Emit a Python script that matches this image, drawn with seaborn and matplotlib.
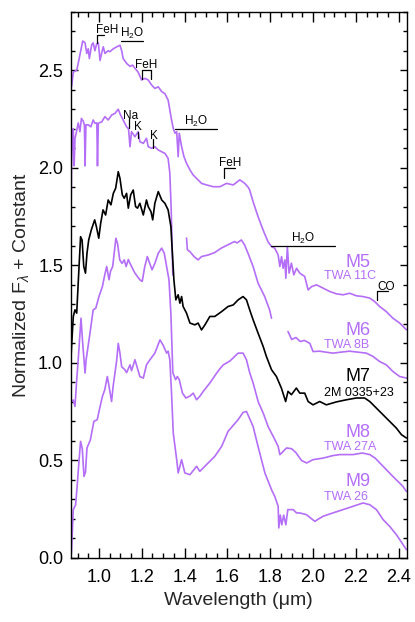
import numpy as np
import pandas as pd
import matplotlib
matplotlib.use("Agg")
import matplotlib.pyplot as plt
import seaborn as sns
from matplotlib.ticker import MultipleLocator

nan = np.nan

# ---------------- spectra (wavelength in micron, normalized flux + offset); nan = gap
m5_wl = [0.872, 0.880, 0.896, 0.903, 0.924, 0.935, 0.943, 0.950, 0.955, 0.966, 0.973, 0.981, 0.989, 0.997,
         1.005, 1.013, 1.020, 1.028, 1.043, 1.051, 1.067, 1.083, 1.098, 1.106, 1.113, 1.129, 1.145, 1.157,
         1.168, 1.183, 1.199, 1.215, 1.230, 1.246, 1.261, 1.277, 1.293, 1.308, 1.323, 1.331, 1.339, 1.347,
         1.355, 1.363, 1.370, 1.375, 1.386, 1.397, 1.409, 1.425, 1.440, 1.463, 1.479, 1.503, 1.533, 1.565,
         1.596, 1.627, 1.658, 1.681, 1.697, 1.704, 1.720, 1.743, 1.767, 1.790, 1.806, 1.821, 1.837, 1.845,
         1.853, 1.860, 1.868, 1.873, 1.880, 1.888, 1.899, 1.910, 1.923, 1.938, 1.961, 1.977, 1.993, 2.016,
         2.047, 2.078, 2.109, 2.140, 2.171, 2.202, 2.233, 2.265, 2.288, 2.311, 2.342, 2.373, 2.405, 2.436]
m5_fl = [2.415, 2.490, 2.500, 2.535, 2.650, 2.640, 2.586, 2.610, 2.560, 2.630, 2.640, 2.600, 2.634, 2.640,
         2.550, 2.590, 2.620, 2.586, 2.600, 2.595, 2.610, 2.620, 2.628, 2.600, 2.560, 2.535, 2.520, 2.526,
         2.510, 2.490, 2.450, 2.458, 2.450, 2.424, 2.407, 2.415, 2.390, 2.380, 2.347, 2.296, 2.245, 2.202,
         2.177, 2.185, 2.057, 2.177, 2.108, 2.057, 2.023, 1.989, 1.963, 1.938, 1.920, 1.912, 1.903, 1.903,
         1.920, 1.912, 1.938, 1.920, 1.900, 1.886, 1.826, 1.750, 1.680, 1.620, 1.596, 1.588, 1.553, 1.494,
         1.545, 1.485, 1.528, 1.434, 1.596, 1.460, 1.511, 1.451, 1.485, 1.460, 1.443, 1.374, 1.391, 1.400,
         1.383, 1.366, 1.354, 1.349, 1.357, 1.344, 1.340, 1.332, 1.314, 1.289, 1.263, 1.229, 1.204, 1.170]

m6_wl = [0.869, 0.872, 0.876, 0.880, 0.884, 0.888, 0.896, 0.903, 0.911, 0.918, 0.926, 0.932, 0.935, 0.939,
         0.950, 0.962, 0.973, 0.981, 0.990, 0.993, 0.997, 1.013, 1.028, 1.043, 1.059, 1.075, 1.090, 1.101,
         1.113, 1.129, 1.138, 1.145, 1.152, 1.168, 1.183, 1.191, 1.207, 1.222, 1.230, 1.246, 1.261, 1.277,
         1.293, 1.308, 1.323, 1.331, 1.337, 1.345, nan,
         1.409, 1.413, 1.425, 1.444, 1.463, 1.479, 1.510, 1.540, 1.571, 1.602, 1.633, 1.645, 1.665, 1.680,
         1.696, 1.720, 1.743, 1.774, 1.797, 1.806, nan,
         1.883, 1.900, 1.920, 1.940, 1.960, 1.985, 2.000, 2.030, 2.060, 2.093, 2.130, 2.170, 2.210, 2.249,
         2.280, 2.311, 2.342, 2.373, 2.405, 2.437]
m6_fl = [1.720, 2.020, 2.150, 2.200, 2.010, 2.150, 2.190, 2.230, 2.185, 2.253, 2.240, 2.220, 2.010, 2.220,
         2.220, 2.210, 2.245, 2.228, 2.230, 2.010, 2.228, 2.236, 2.262, 2.245, 2.270, 2.279, 2.300, 2.270,
         2.245, 2.210, 2.200, 2.108, 2.185, 2.159, 2.185, 2.134, 2.125, 2.151, 2.108, 2.100, 2.108, 2.091,
         2.082, 2.074, 2.048, 1.972, 1.800, 1.450, nan,
         1.640, 1.580, 1.570, 1.545, 1.528, 1.545, 1.553, 1.565, 1.588, 1.605, 1.622, 1.615, 1.630, 1.605,
         1.562, 1.494, 1.409, 1.340, 1.272, 1.229, nan,
         1.161, 1.120, 1.130, 1.110, 1.115, 1.100, 1.058, 1.060, 1.055, 1.050, 1.055, 1.060, 1.055, 1.050,
         1.033, 1.007, 0.990, 0.956, 0.930, 0.922]

m7_wl = [0.869, 0.872, 0.880, 0.888, 0.896, 0.903, 0.914, 0.921, 0.929, 0.937, 0.944, 0.952, 0.964, 0.980,
         0.988, 0.999, 1.008, 1.019, 1.031, 1.043, 1.056, 1.067, 1.078, 1.090, 1.098, 1.109, 1.118, 1.129,
         1.137, 1.148, 1.160, 1.171, 1.180, 1.191, 1.207, 1.222, 1.230, 1.243, 1.251, 1.261, 1.277, 1.293,
         1.308, 1.323, 1.336, 1.342, 1.350, 1.359, 1.370, 1.378, 1.386, 1.393, 1.409, 1.425, 1.448, 1.463,
         1.479, 1.495, 1.518, 1.541, 1.573, 1.603, 1.627, 1.650, 1.673, 1.689, 1.704, 1.720, 1.743, 1.767,
         1.782, 1.806, 1.829, 1.852, 1.872, 1.883, 1.899, 1.922, 1.938, 1.961, 1.977, 2.000, 2.031, 2.062,
         2.109, 2.156, 2.202, 2.241, 2.265, 2.296, 2.327, 2.358, 2.389, 2.413, 2.436]
m7_fl = [1.020, 1.084, 1.238, 1.272, 1.255, 1.409, 1.647, 1.630, 1.494, 1.460, 1.562, 1.630, 1.681, 1.733,
         1.698, 1.639, 1.716, 1.784, 1.758, 1.835, 1.810, 1.869, 1.895, 1.980, 1.946, 1.861, 1.844, 1.869,
         1.793, 1.861, 1.886, 1.801, 1.793, 1.818, 1.758, 1.835, 1.801, 1.775, 1.733, 1.818, 1.878, 1.835,
         1.818, 1.784, 1.698, 1.579, 1.426, 1.323, 1.349, 1.306, 1.340, 1.289, 1.255, 1.204, 1.195, 1.204,
         1.169, 1.195, 1.238, 1.238, 1.263, 1.289, 1.297, 1.323, 1.340, 1.323, 1.272, 1.221, 1.153, 1.084,
         1.033, 0.965, 0.930, 0.871, 0.802, 0.854, 0.837, 0.871, 0.845, 0.845, 0.802, 0.785, 0.802, 0.785,
         0.800, 0.811, 0.820, 0.820, 0.802, 0.768, 0.734, 0.700, 0.666, 0.632, 0.615]

m8_wl = [0.869, 0.880, 0.888, 0.896, 0.903, 0.916, 0.924, 0.935, 0.940, 0.958, 0.973, 0.985, 1.000, 1.016,
         1.027, 1.036, 1.047, 1.054, 1.064, 1.079, 1.087, 1.097, 1.108, 1.118, 1.127, 1.137, 1.145, 1.160,
         1.168, 1.191, 1.202, 1.214, 1.226, 1.237, 1.248, 1.261, 1.277, 1.293, 1.305, 1.316, 1.327, 1.336,
         1.345, 1.358, 1.366, 1.375, 1.390, 1.406, 1.425, 1.440, 1.456, 1.472, 1.487, 1.518, 1.550, 1.565,
         1.581, 1.612, 1.650, 1.673, 1.689, 1.704, 1.720, 1.744, 1.767, 1.790, 1.814, 1.837, 1.845, 1.853,
         1.876, 1.900, 1.920, 1.946, 1.970, 2.000, 2.047, 2.093, 2.125, 2.187, 2.230, 2.265, 2.290, 2.327,
         2.373, 2.420, 2.436]
m8_fl = [0.800, 0.810, 0.777, 0.914, 1.016, 1.229, 1.100, 0.948, 1.016, 1.153, 1.272, 1.280, 1.340, 1.391,
         1.451, 1.494, 1.426, 1.470, 1.494, 1.639, 1.610, 1.528, 1.510, 1.528, 1.494, 1.530, 1.510, 1.477,
         1.460, 1.426, 1.418, 1.494, 1.545, 1.510, 1.477, 1.510, 1.562, 1.588, 1.562, 1.494, 1.426, 1.250,
         0.950, 0.914, 0.930, 0.914, 0.845, 0.820, 0.830, 0.845, 0.811, 0.830, 0.854, 0.897, 0.948, 0.970,
         0.990, 1.010, 1.050, 1.050, 1.016, 0.950, 0.897, 0.800, 0.743, 0.674, 0.623, 0.572, 0.530, 0.538,
         0.564, 0.560, 0.540, 0.500, 0.487, 0.504, 0.512, 0.525, 0.530, 0.530, 0.538, 0.530, 0.512, 0.470,
         0.418, 0.367, 0.341]

m9_wl = [0.869, 0.872, 0.880, 0.891, 0.898, 0.906, 0.914, 0.922, 0.930, 0.937, 0.944, 0.960, 0.976, 0.992,
         1.000, 1.016, 1.027, 1.039, 1.047, 1.059, 1.066, 1.075, 1.083, 1.090, 1.098, 1.106, 1.121, 1.129,
         1.145, 1.152, 1.168, 1.191, 1.207, 1.222, 1.238, 1.261, 1.285, 1.300, 1.316, 1.323, 1.331, 1.339,
         1.347, 1.363, 1.370, 1.386, 1.401, 1.425, 1.456, 1.471, 1.510, 1.541, 1.573, 1.603, 1.650, 1.673,
         1.689, 1.720, 1.743, 1.775, 1.806, 1.821, 1.837, 1.840, 1.847, 1.854, 1.863, 1.873, 1.882, 1.907,
         1.923, 1.938, 1.969, 2.008, 2.047, 2.093, 2.140, 2.187, 2.233, 2.265, 2.296, 2.327, 2.358, 2.389,
         2.436]
m9_fl = [0.000, 0.043, 0.248, 0.273, 0.367, 0.487, 0.598, 0.560, 0.418, 0.440, 0.564, 0.606, 0.700, 0.709,
         0.751, 0.828, 0.862, 0.930, 0.880, 0.802, 0.880, 0.950, 1.016, 1.100, 1.050, 0.980, 0.965, 0.950,
         0.990, 0.960, 1.016, 0.930, 0.922, 0.990, 1.016, 1.050, 1.118, 1.090, 1.050, 1.060, 1.016, 0.845,
         0.640, 0.504, 0.436, 0.504, 0.436, 0.427, 0.470, 0.444, 0.487, 0.521, 0.572, 0.649, 0.709, 0.746,
         0.751, 0.674, 0.572, 0.436, 0.350, 0.316, 0.265, 0.154, 0.220, 0.170, 0.220, 0.170, 0.248, 0.248,
         0.231, 0.231, 0.222, 0.188, 0.214, 0.231, 0.248, 0.265, 0.282, 0.273, 0.248, 0.197, 0.162, 0.120,
         0.043]

spec_types = ["M5", "M6", "M7", "M8", "M9"]
spec_names = ["TWA 11C", "TWA 8B", "2M 0335+23", "TWA 27A", "TWA 26"]
type_label_y = [1.494, 1.144, 0.905, 0.620, 0.367]
name_label_y = [1.429, 1.076, 0.832, 0.551, 0.295]

# ---------------- absorption-feature annotations
feat_text = ["FeH", "H$_2$O", "FeH", "Na", "K", "K", "H$_2$O", "FeH", "H$_2$O", "CO"]
feat_tx = [1.036, 1.153, 1.221, 1.146, 1.183, 1.255, 1.454, 1.614, 1.952, 2.341]
feat_ty = [2.689, 2.672, 2.512, 2.252, 2.192, 2.150, 2.220, 2.009, 1.620, 1.374]
feat_x0 = [0.992, 1.103, 1.199, 1.141, 1.180, 1.251, 1.355, 1.585, 1.803, 2.299]
feat_x1 = [1.023, 1.204, 1.241, 1.141, 1.180, 1.251, 1.552, 1.635, 2.101, 2.350]
feat_y = [2.680, 2.651, 2.501, 2.248, 2.185, 2.146, 2.200, 1.997, 1.600, 1.366]
feat_left_end = [2.637, nan, 2.453, 2.202, 2.151, 2.100, nan, 1.949, nan, 1.320]
feat_right_end = [nan, nan, 2.453, nan, nan, nan, nan, nan, nan, nan]

PURPLE = "#b46ef8"
spec_colors = [PURPLE, PURPLE, "black", PURPLE, PURPLE]

sns.set_style("ticks")
plt.rcParams["font.family"] = ["Liberation Sans", "DejaVu Sans"]
plt.rcParams["mathtext.fontset"] = "custom"
plt.rcParams["mathtext.rm"] = "Liberation Sans"
plt.rcParams["mathtext.it"] = "Liberation Sans:italic"

rows = []
for t, wl, fl in zip(spec_types, [m5_wl, m6_wl, m7_wl, m8_wl, m9_wl], [m5_fl, m6_fl, m7_fl, m8_fl, m9_fl]):
    seg = 0
    for w, f in zip(wl, fl):
        if np.isnan(w):
            seg += 1
            continue
        rows.append({"type": t, "seg": seg, "wl": w, "flux": f})
df = pd.DataFrame(rows)

fig = plt.figure(figsize=(4.15, 6.22), dpi=100)
ax = fig.add_axes([0.1704, 0.1029, 0.8104, 0.8783])

for t, c in zip(spec_types, spec_colors):
    sub = df[df["type"] == t]
    sns.lineplot(data=sub, x="wl", y="flux", units="seg", estimator=None, sort=False,
                 color=c, lw=1.2, ax=ax, legend=False)

for t, n, ty, ny, c in zip(spec_types, spec_names, type_label_y, name_label_y, spec_colors):
    ax.text(2.151, ty, t, color=c, fontsize=13, ha="left", va="baseline")
    ax.text(2.050, ny, n, color=c, fontsize=9, ha="left", va="baseline")

for txt, tx, ty, x0, x1, y, yl, yr in zip(feat_text, feat_tx, feat_ty, feat_x0, feat_x1, feat_y,
                                          feat_left_end, feat_right_end):
    ax.text(tx, ty, txt, fontsize=8.5, ha="center", va="baseline", color="black")
    if x1 > x0:
        ax.plot([x0, x1], [y, y], color="black", lw=0.9)
    if not np.isnan(yl):
        ax.plot([x0, x0], [y, yl], color="black", lw=0.9)
    if not np.isnan(yr):
        ax.plot([x1, x1], [y, yr], color="black", lw=0.9)

ax.set_xlim(0.868, 2.439)
ax.set_ylim(0.0, 2.80)
ax.xaxis.set_major_locator(MultipleLocator(0.2))
ax.xaxis.set_minor_locator(MultipleLocator(0.05))
ax.yaxis.set_major_locator(MultipleLocator(0.5))
ax.yaxis.set_minor_locator(MultipleLocator(0.1))
ax.xaxis.set_major_formatter(matplotlib.ticker.FormatStrFormatter("%.1f"))
ax.yaxis.set_major_formatter(matplotlib.ticker.FormatStrFormatter("%.1f"))
ax.tick_params(axis="both", which="both", direction="in", top=True, right=True, colors="black")
ax.tick_params(axis="x", which="major", length=7, width=1, labelsize=13, pad=8)
ax.tick_params(axis="x", which="minor", length=3.5, width=1)
ax.tick_params(axis="y", which="major", length=5, width=1, labelsize=13, pad=5.5)
ax.tick_params(axis="y", which="minor", length=3, width=1)
for s in ax.spines.values():
    s.set_linewidth(1.0)
    s.set_color("black")

ax.set_xlabel("Wavelength (\u03bcm)", fontsize=14, labelpad=4)
ax.set_ylabel("Normalized F$_\\lambda$ + Constant", fontsize=14, labelpad=5)

fig.savefig("out.png", dpi=100, facecolor="white")
